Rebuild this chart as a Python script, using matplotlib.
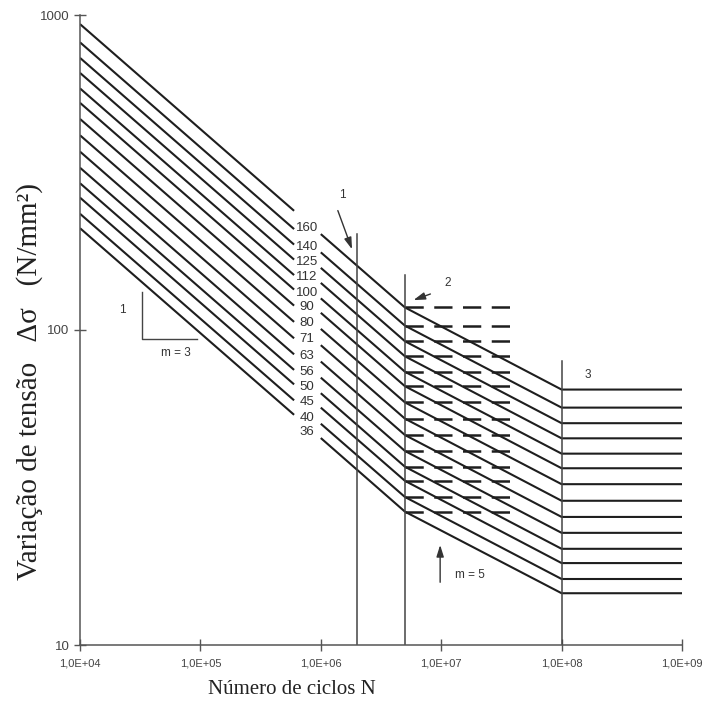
import numpy as np
import matplotlib
matplotlib.use("Agg")
import matplotlib.pyplot as plt

categories = [160, 140, 125, 112, 100, 90, 80, 71, 63, 56, 50, 45, 40, 36]
N_points_left = [1e4, 6e5]            # first drawn segment (m = 3)
N_points_right = [1e6, 5e6, 1e8, 1e9]  # second drawn segment (m=3, m=5, horizontal)
stress_at_1e4 = [935.7, 818.8, 731.0, 655.0, 584.8, 526.3, 467.8, 415.2, 368.4, 327.5, 292.4, 263.2, 233.9, 210.5]
stress_at_6e5 = [239.0, 209.1, 186.7, 167.3, 149.4, 134.4, 119.5, 106.1, 94.1, 83.7, 74.7, 67.2, 59.8, 53.8]
stress_at_1e6 = [201.6, 176.4, 157.5, 141.1, 126.0, 113.4, 100.8, 89.5, 79.4, 70.6, 63.0, 56.7, 50.4, 45.4]
stress_at_5e6 = [117.9, 103.2, 92.1, 82.5, 73.7, 66.3, 58.9, 52.3, 46.4, 41.3, 36.8, 33.2, 29.5, 26.5]
stress_at_1e8 = [64.7, 56.7, 50.6, 45.3, 40.5, 36.4, 32.4, 28.7, 25.5, 22.7, 20.2, 18.2, 16.2, 14.6]
N_dash = [5e6, 4e7]
vlines_N = [2e6, 5e6, 1e8]
vlines_top = [202, 150, 80]
xticks = [1e4, 1e5, 1e6, 1e7, 1e8, 1e9]
xtick_labels = ["1,0E+04", "1,0E+05", "1,0E+06", "1,0E+07", "1,0E+08", "1,0E+09"]
yticks = [10, 100, 1000]
ytick_labels = ["10", "100", "1000"]

W, H = 709, 718
fig = plt.figure(figsize=(W / 100, H / 100), dpi=100)
ax = fig.add_axes([80 / W, 1 - 645 / H, (682 - 80) / W, (645 - 15) / H])
ax.set_xscale("log")
ax.set_yscale("log")
ax.set_xlim(1e4, 1e9)
ax.set_ylim(10, 1000)

lc = "#1e1e1e"
for i, c in enumerate(categories):
    ax.plot(N_points_left, [stress_at_1e4[i], stress_at_6e5[i]], color=lc, lw=1.5,
            solid_capstyle="butt")
    ax.plot(N_points_right, [stress_at_1e6[i], stress_at_5e6[i], stress_at_1e8[i], stress_at_1e8[i]],
            color=lc, lw=1.5, solid_capstyle="butt")
    ax.plot(N_dash, [stress_at_5e6[i], stress_at_5e6[i]], color=lc, lw=1.8,
            dashes=(7.3, 4.2), dash_capstyle="butt")
    # label between segments
    lx = np.log10(8.8e5)
    ly = np.interp(lx, np.log10([6e5, 1e6]), np.log10([stress_at_6e5[i], stress_at_1e6[i]]))
    ax.text(7.67e5, 10 ** ly, str(c), ha="center", va="center", fontsize=9.5,
            family="Liberation Sans", color="#333333")

for n, top in zip(vlines_N, vlines_top):
    ax.plot([n, n], [10, top], color="#444444", lw=1.1)

# annotations
tfont = dict(family="Liberation Sans", fontsize=8.5, color="#333333")
arrow = dict(arrowstyle="-|>,head_length=0.7,head_width=0.22", color="#333333", lw=1.0)
ax.text(1.5e6, 268, "1", ha="center", va="center", **tfont)
ax.annotate("", xy=(1.85e6, 177), xytext=(1.36e6, 244), arrowprops=arrow)
ax.text(1.14e7, 141, "2", ha="center", va="center", **tfont)
ax.annotate("", xy=(5.6e6, 123.6), xytext=(8.55e6, 131), arrowprops=arrow)
ax.text(1.66e8, 72, "3", ha="center", va="center", **tfont)
ax.text(1.73e7, 16.7, "m = 5", ha="center", va="center", **tfont)
ax.annotate("", xy=(9.8e6, 21.2), xytext=(9.8e6, 15.5), arrowprops=arrow)
# slope triangle m = 3
ax.plot([3.27e4, 3.27e4, 9.37e4], [132, 93.6, 93.6], color="#444444", lw=1.0)
ax.text(2.23e4, 115.8, "1", ha="center", va="center", **tfont)
ax.text(6.27e4, 84.5, "m = 3", ha="center", va="center", **tfont)

for s in ["top", "right"]:
    ax.spines[s].set_visible(False)
for s in ["left", "bottom"]:
    ax.spines[s].set_color("#555555")
    ax.spines[s].set_linewidth(1.1)

ax.set_xticks(xticks)
ax.set_xticklabels(xtick_labels, family="Liberation Sans", fontsize=8, color="#444444")
ax.set_yticks(yticks)
ax.set_yticklabels(ytick_labels, family="Liberation Sans", fontsize=9.5, color="#444444")
ax.minorticks_off()
ax.tick_params(axis="both", direction="inout", length=9, width=1.0, color="#555555", pad=3)
ax.tick_params(axis="x", pad=5)

fig.text(292 / W, 1 - 690 / H, "Número de ciclos N", ha="center", va="center",
         family="Liberation Serif", fontsize=15, color="#222222")
fig.text(30 / W, 1 - 382 / H, "Variação de tensão   Δσ   (N/mm²)", ha="center", va="center",
         rotation=90, family="Liberation Serif", fontsize=21, color="#222222")

fig.savefig("out.png", dpi=100)
